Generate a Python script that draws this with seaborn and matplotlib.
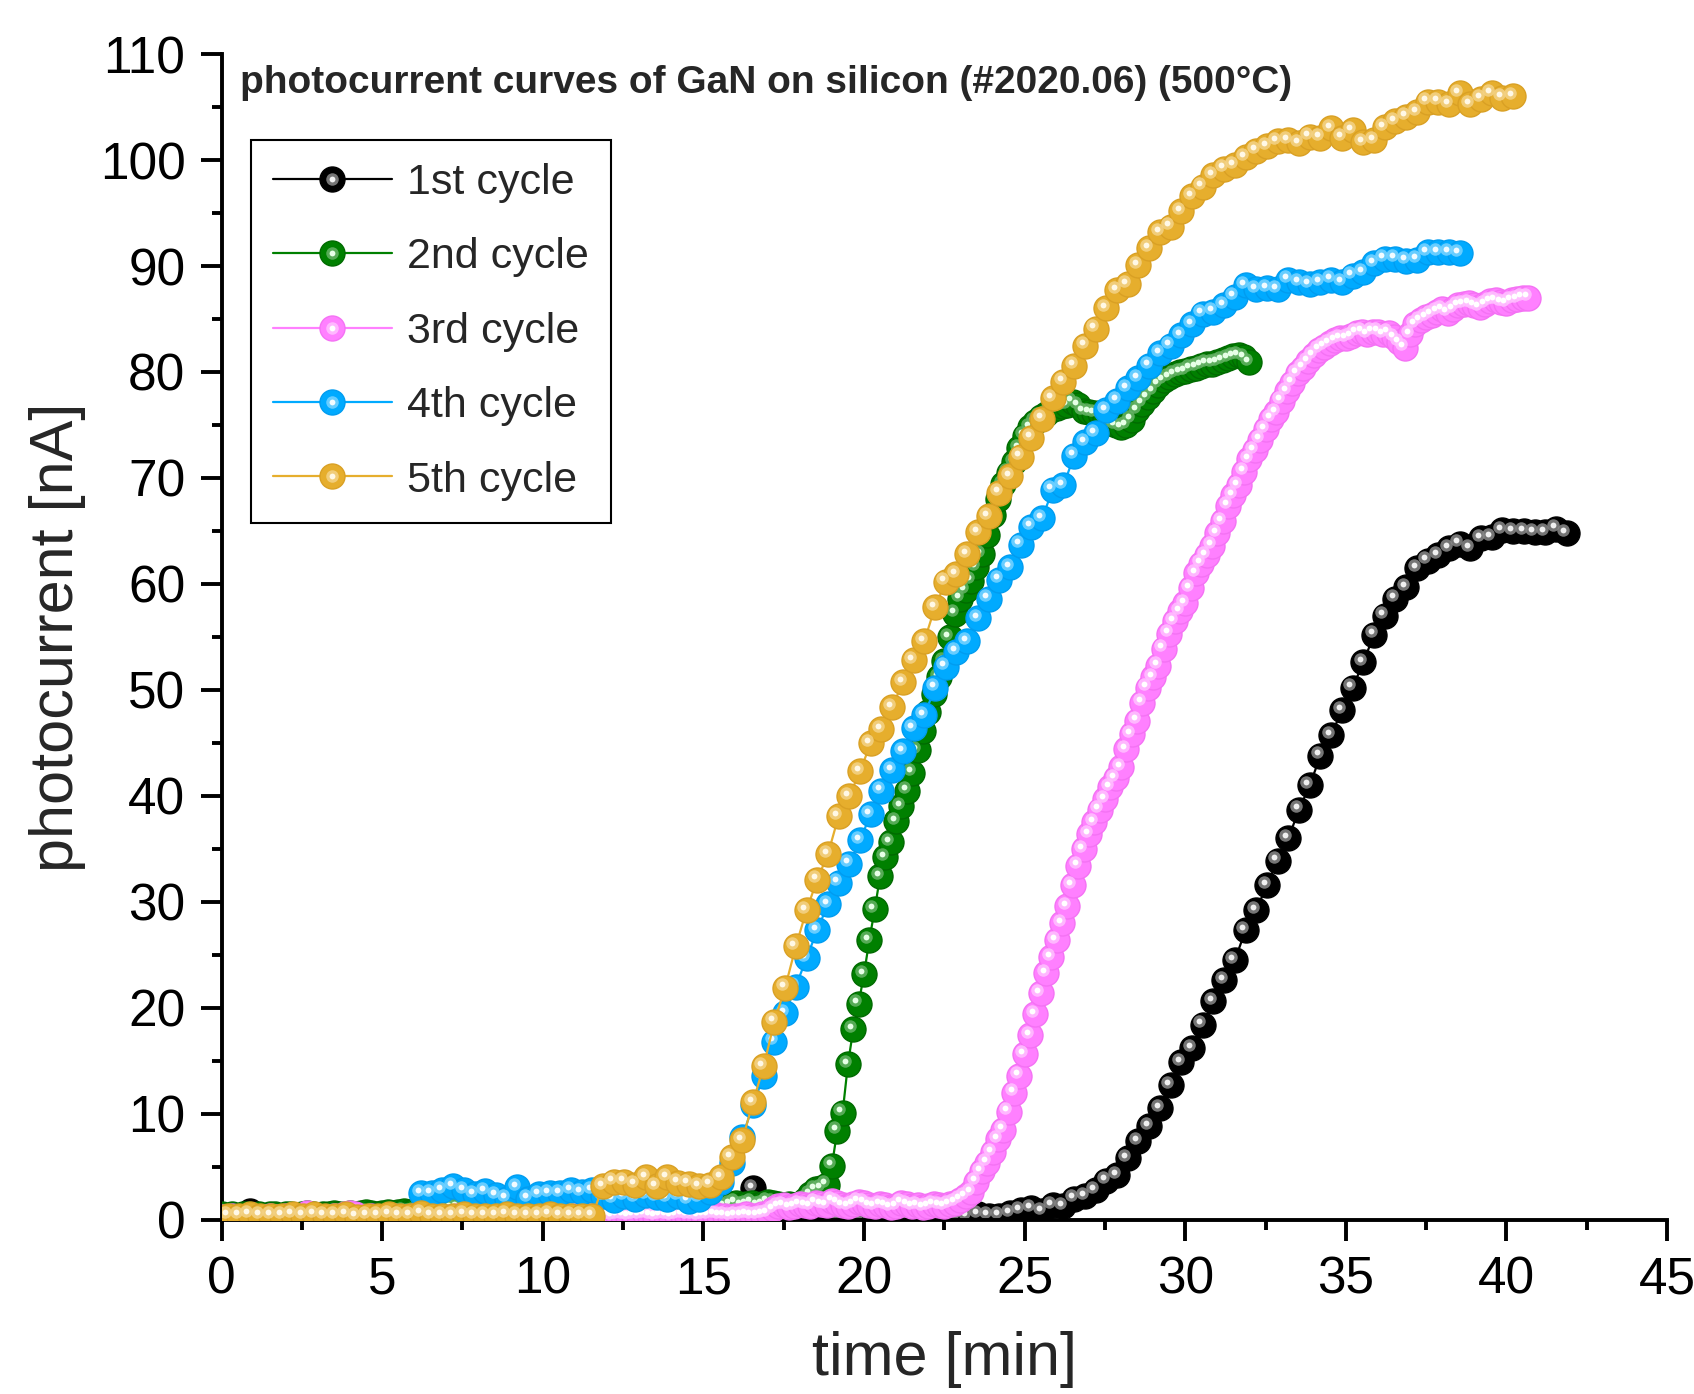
import numpy as np
import pandas as pd
import matplotlib
matplotlib.use('Agg')
import matplotlib.pyplot as plt
import matplotlib.transforms as mtransforms
from matplotlib.lines import Line2D
from matplotlib.legend_handler import HandlerTuple
from matplotlib.ticker import MultipleLocator
import seaborn as sns

# photocurrent [nA]
# 1st, 4th, 5th cycle: one reading every 20 s, 2nd and 3rd cycle: every 10 s
names = ['1st cycle', '2nd cycle', '3rd cycle', '4th cycle', '5th cycle']

i_1st = [0.3, 0.4, 0.8, 0.4, 0.3, 0.2, 0.3, 0.2, 0.3, 0.2,
         0.2, 0.3, 0.2, 0.3, 0.2, 0.2, 0.3, 0.2, 0.3, 0.2,
         0.3, 0.2, 0.2, 0.3, 0.2, 0.3, 0.4, 0.3, 0.2, 0.3,
         0.5, 0.3, 0.4, 0.4, 0.3, 0.4, 0.3, 0.4, 0.3, 0.4,
         0.5, 0.4, 0.5, 0.4, 0.5, 0.6, 0.5, 0.6, 0.7, 3.0,
         0.6, 0.5, 0.6, 0.5, 0.4, 0.5, 0.4, 0.3, 0.4, 0.3,
         0.3, 0.2, 0.3, 0.2, 0.3, 0.2, 0.3, 0.2, 0.3, 0.3,
         0.5, 0.4, 0.4, 0.6, 0.9, 1.1, 0.8, 1.4, 1.3, 2.0,
         2.2, 2.8, 3.7, 4.2, 5.8, 7.4, 8.8, 10.5, 12.7, 14.9,
         16.2, 18.4, 20.6, 22.6, 24.5, 27.3, 29.2, 31.6, 33.9, 36.0,
         38.7, 41.0, 43.8, 45.7, 48.1, 50.2, 52.6, 55.2, 57.0, 58.6,
         59.7, 61.5, 62.2, 62.7, 63.4, 63.8, 63.4, 64.3, 64.4, 65.1,
         65.0, 65.0, 64.9, 64.9, 65.2, 64.8]

i_2nd = [0.5, 0.4, 0.5, 0.4, 0.5, 0.5, 0.4, 0.5, 0.4, 0.5,
         0.5, 0.4, 0.5, 0.5, 0.4, 0.5, 0.6, 0.5, 0.4, 0.5,
         0.5, 0.6, 0.5, 0.5, 0.6, 0.5, 0.6, 0.7, 0.6, 0.5,
         0.6, 0.7, 0.6, 0.7, 0.8, 0.7, 0.8, 0.9, 1.0, 0.9,
         1.1, 1.2, 1.0, 1.1, 1.2, 1.0, 0.9, 1.0, 1.1, 1.0,
         0.9, 1.0, 1.1, 1.2, 1.1, 1.0, 0.9, 1.0, 0.9, 1.0,
         1.1, 1.0, 1.2, 1.1, 1.2, 1.3, 1.2, 1.3, 1.2, 1.4,
         1.3, 1.2, 1.3, 1.2, 1.1, 1.2, 1.1, 1.0, 1.1, 1.2,
         1.1, 1.0, 1.1, 1.2, 1.1, 1.0, 1.1, 1.2, 1.3, 1.2,
         1.3, 1.4, 1.5, 1.4, 1.3, 1.5, 1.6, 1.4, 1.5, 1.6,
         1.4, 1.5, 1.7, 1.6, 1.5, 1.4, 1.5, 1.4,
         1.5, 1.9, 2.4, 2.9, 3.0, 3.3, 5.1, 8.4, 10.1, 14.7,
         18.0, 20.4, 23.2, 26.4, 29.3, 32.4, 34.2, 35.6, 37.6, 39.0,
         40.5, 42.2, 44.3, 46.1, 47.9, 49.6, 51.2, 52.7, 55.0, 57.2,
         58.6, 59.4, 60.3, 61.6, 62.8, 64.6, 66.5, 68.0, 69.4, 70.5,
         71.5, 72.8, 74.0, 74.8, 75.3, 75.8, 76.0, 76.4, 76.6, 76.8,
         76.9, 77.2, 76.9, 76.3, 76.2, 76.1, 76.1, 75.6, 75.2, 75.0,
         74.8, 75.0, 75.5, 76.4, 77.0, 77.6, 78.2, 78.8, 79.2, 79.5,
         79.8, 80.0, 80.1, 80.3, 80.4, 80.6, 80.8, 80.8, 80.9, 81.1,
         81.3, 81.5, 81.6, 81.4, 80.9]

i_3rd = [0.3, 0.3, 0.4, 0.3, 0.3, 0.4, 0.3, 0.3, 0.3, 0.4,
         0.3, 0.3, 0.4, 0.3, 0.3, 0.3, 0.6, 0.4, 0.3, 0.3,
         0.3, 0.4, 0.3, 0.5, 0.6, 0.5, 0.3, 0.3, 0.4, 0.3,
         0.3, 0.3, 0.4, 0.3, 0.3, 0.3, 0.4, 0.3, 0.3, 0.3,
         0.4, 0.3, 0.3, 0.3, 0.4, 0.3, 0.3, 0.4, 0.3, 0.3,
         0.3, 0.4, 0.3, 0.3, 0.3, 0.4, 0.3, 0.3, 0.4, 0.3,
         0.3, 0.3, 0.4, 0.3, 0.3, 0.3, 0.4, 0.3, 0.3, 0.4,
         0.3, 0.3,
         0.4, 0.3, 0.4, 0.4, 0.3, 0.4, 0.4, 0.5, 0.4, 0.3,
         0.4, 0.4, 0.3, 0.4, 0.5, 0.4, 0.4, 0.3, 0.4, 0.4,
         0.5, 0.4, 0.4, 0.3, 0.4, 0.4, 0.5, 0.4, 0.4, 0.5,
         0.6,
         1.0, 1.3, 1.4, 1.2, 1.3, 1.5, 1.4, 1.3, 1.6, 1.5,
         1.4, 1.8, 1.6, 1.4, 1.3, 1.5, 1.7, 1.6, 1.4, 1.3,
         1.5, 1.4, 1.2, 1.3, 1.6, 1.5, 1.3, 1.4, 1.2, 1.3,
         1.5, 1.4, 1.3, 1.5, 1.6, 1.9,
         2.2, 2.6, 3.6, 4.6, 5.4, 6.4, 7.6, 8.5, 10.2, 12.0,
         13.6, 15.6, 17.4, 19.4, 21.4, 23.3, 24.8, 26.4, 28.0, 29.6,
         31.6, 33.4, 35.0, 36.4, 37.5, 38.7, 39.7, 40.8, 41.7, 42.7,
         44.4, 45.8, 47.1, 48.8, 50.2, 51.2, 52.3, 53.9, 55.3, 56.5,
         57.4, 58.2, 59.6, 61.0, 61.9, 62.7, 63.6, 64.8, 65.9, 67.4,
         68.4, 69.3, 70.6, 71.8, 72.6, 73.6, 74.6, 75.6, 76.2, 77.3,
         78.2, 79.0, 79.9, 80.4, 81.0, 81.6, 82.1, 82.4, 82.7, 83.0,
         83.2, 83.2, 83.4, 83.7, 83.8, 83.6, 83.8, 83.8, 83.6, 83.7,
         83.3, 82.8, 82.3, 83.6, 84.5, 84.9, 85.2, 85.4, 85.7, 85.9,
         85.6, 85.9, 86.3, 86.4, 86.5, 86.3, 86.1, 86.4, 86.7, 86.8,
         86.6, 86.5, 86.8, 86.9, 87.0, 87.0]

i_4th = [2.5, 2.5, 2.8, 3.2, 2.8, 2.4, 2.7, 2.3, 2.0, 3.1,
         2.0, 2.4, 2.5, 2.5, 2.8, 2.6, 2.8, 2.2, 1.9, 2.2,
         2.0, 2.3, 2.1, 2.0, 2.2, 1.8, 2.0, 2.6, 3.6, 5.4,
         7.8, 10.8, 13.6, 16.8, 19.5, 22.0, 24.7, 27.3, 29.8, 31.8,
         33.6, 35.8, 38.3, 40.5, 42.4, 44.2, 46.4, 47.6, 50.2, 52.2,
         53.6, 54.6, 56.8, 58.6, 60.4, 61.6, 63.7, 65.4, 66.2, 68.9,
         69.3, 72.1, 73.4, 74.2, 76.4, 77.3, 78.5, 79.4, 80.6, 81.8,
         82.5, 83.5, 84.5, 85.5, 85.7, 86.3, 87.1, 88.2, 87.8, 87.9,
         87.8, 88.7, 88.5, 88.3, 88.5, 88.7, 88.5, 89.1, 89.4, 90.3,
         90.7, 90.7, 90.5, 90.6, 91.3, 91.3, 91.3, 91.2]

i_5th = [0.4, 0.4, 0.5, 0.4, 0.4, 0.4, 0.5, 0.4, 0.5, 0.4,
         0.4, 0.5, 0.3, 0.4, 0.4, 0.5, 0.4, 0.4, 0.6, 0.4,
         0.4, 0.4, 0.5, 0.4, 0.4, 0.4, 0.5, 0.4, 0.4, 0.4,
         0.5, 0.4, 0.4, 0.4, 0.4,
         3.2, 3.6, 3.6, 3.3, 4.0, 3.2, 4.0, 3.5, 3.4, 3.2,
         3.3, 4.0, 5.9, 7.5, 11.1, 14.5, 18.7, 21.9, 25.8, 29.2,
         32.1, 34.5, 38.1, 40.0, 42.3, 45.0, 46.3, 48.4, 50.7, 52.8,
         54.6, 57.8, 60.2, 60.9, 62.8, 64.9, 66.4, 68.6, 70.2, 72.0,
         73.8, 75.6, 77.5, 79.1, 80.6, 82.5, 84.1, 86.0, 87.7, 88.3,
         90.1, 91.7, 93.2, 93.7, 95.2, 96.6, 97.5, 98.6, 99.2, 99.5,
         100.3, 100.9, 101.3, 101.8, 101.9, 101.6, 102.2, 102.1, 103.0, 102.1,
         102.8, 101.7, 101.9, 103.1, 103.7, 104.1, 104.5, 105.5, 105.5, 105.3,
         106.3, 105.3, 105.8, 106.3, 105.9, 106.0]

start_min = [0.21, 0.0, 0.0, 6.21, 0.21]
step_min = [1 / 3, 1 / 6, 1 / 6, 1 / 3, 1 / 3]
currents = [i_1st, i_2nd, i_3rd, i_4th, i_5th]

colors = ['#000000', '#008000', '#FF80FF', '#00AAFF', '#E6AE2D']
edges = ['#000000', '#006A00', '#F472F4', '#009CF0', '#D9A024']
halos = ['#8A8A8A', '#66B366', '#FFC2FF', '#7AD4FF', '#F4D388']
glints = ['#F0F0F0', '#E6FFE6', '#FFFFFF', '#F2FBFF', '#FFF8E6']

frames = []
for name, t0, dt, vals in zip(names, start_min, step_min, currents):
    frames.append(pd.DataFrame({'time': t0 + np.arange(len(vals)) * dt,
                                'current': vals, 'cycle': name}))
data = pd.concat(frames, ignore_index=True)

sns.set_style('ticks')
plt.rcParams['font.family'] = ['Liberation Sans', 'DejaVu Sans']

fig = plt.figure(figsize=(16.94, 13.94), dpi=100)
ax = fig.add_axes([0.1308, 0.1250, 0.8533, 0.8362])

shift = mtransforms.offset_copy(ax.transData, fig=fig, x=-2.4, y=2.4, units='points')

bead = 18
halo_ms = 9
glint_ms = 4.2

handles = []
for k, name in enumerate(names):
    d = data[data['cycle'] == name]
    sns.lineplot(data=d, x='time', y='current', ax=ax, color=colors[k],
                 linewidth=1.6, marker='o', sort=False, estimator=None,
                 zorder=2 + k, legend=False)
    base = ax.lines[-1]
    base.set_markersize(bead)
    base.set_markerfacecolor(colors[k])
    base.set_markeredgecolor(edges[k])
    base.set_markeredgewidth(1.0)
    # glossy highlight on every bead
    ax.plot(d['time'], d['current'], ls='none', marker='o', ms=halo_ms,
            color=halos[k], mec='none', alpha=0.85, transform=shift, zorder=2 + k + 0.01)
    ax.plot(d['time'], d['current'], ls='none', marker='o', ms=glint_ms,
            color=glints[k], mec='none', transform=shift, zorder=2 + k + 0.02)
    handles.append((base,
                    Line2D([], [], ls='none', marker='o', ms=halo_ms, color=halos[k], mec='none', alpha=0.85),
                    Line2D([], [], ls='none', marker='o', ms=glint_ms, color=glints[k], mec='none')))

ax.set_xlim(0, 45)
ax.set_ylim(0, 110)
ax.xaxis.set_major_locator(MultipleLocator(5))
ax.xaxis.set_minor_locator(MultipleLocator(2.5))
ax.yaxis.set_major_locator(MultipleLocator(10))
ax.yaxis.set_minor_locator(MultipleLocator(5))

sns.despine(ax=ax)
for side in ['left', 'bottom']:
    ax.spines[side].set_linewidth(2.8)
    ax.spines[side].set_color('black')
ax.tick_params(which='major', direction='out', length=15, width=2.8,
               labelsize=37, color='black', labelcolor='black')
ax.tick_params(which='minor', direction='out', length=7.5, width=2.8, color='black')
ax.tick_params(axis='y', which='major', pad=11)
ax.tick_params(axis='x', which='major', pad=11)

ax.set_xlabel('time [min]', fontsize=44)
ax.set_ylabel('photocurrent [nA]', fontsize=44)
ax.xaxis.set_label_coords(0.5, -0.1445)
ax.xaxis.label.set_va('bottom')
ax.yaxis.set_label_coords(-0.094, 0.5)

ax.text(0.0128, 0.975, 'photocurrent curves of GaN on silicon (#2020.06) (500°C)',
        transform=ax.transAxes, fontsize=28, fontweight='bold', ha='left', va='center')

leg = ax.legend(handles, names, handler_map={tuple: HandlerTuple(ndivide=1)},
                loc='upper left', bbox_to_anchor=(0.0202, 0.926), borderaxespad=0,
                fontsize=31, frameon=True, fancybox=False, edgecolor='black',
                framealpha=1, handlelength=2.75, handletextpad=0.35,
                labelspacing=0.8, borderpad=0.52)
leg.get_frame().set_linewidth(1.5)

fig.savefig('out.png', dpi=100)
